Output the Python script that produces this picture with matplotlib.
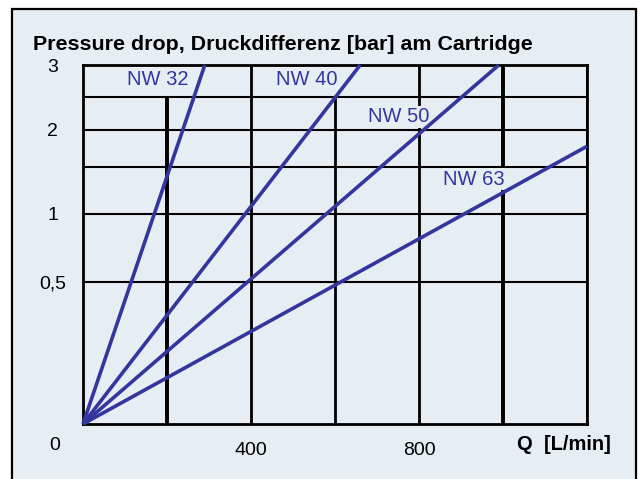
import numpy as np
import matplotlib.pyplot as plt
from matplotlib.patches import Rectangle

# pressure levels on the y axis and the pixel distance of each from the zero line
p_levels = [0, 0.5, 1, 1.5, 2, 2.5, 3]
p_dist = [0, 142, 210, 257, 294, 327, 359]

# curves: name, flow at end point [L/min], pressure at end point [bar]
names = ['NW 32', 'NW 40', 'NW 50', 'NW 63']
q_end = [290, 660, 990, 1200]
p_end = [3, 3, 3, 1.78]

x_ticks = [400, 800]
x_grid = [200, 400, 600, 800, 1000, 1200]
y_ticks = [0.5, 1, 2, 3]
y_ticklabels = ['0,5', '1', '2', '3']
y_grid = [0.5, 1, 1.5, 2, 2.5]

bg = '#e7eef3'
blue = '#3535a0'

def fwd(p):
	return np.interp(p, p_levels, p_dist)

def inv(d):
	return np.interp(d, p_dist, p_levels)

plt.rcParams['font.family'] = ['Liberation Sans', 'DejaVu Sans']

fig = plt.figure(figsize=(6.38, 4.79), dpi=100)
fig.patch.set_facecolor('white')
# light panel with a black frame
fig.patches.append(Rectangle((12/638, -0.01), 624/638, 1 - 9/479 + 0.01, transform=fig.transFigure,
	facecolor=bg, edgecolor='black', linewidth=1.6, zorder=-1))

ax = fig.add_axes([83/638, 1 - 424/479, 504/638, 359/479])
ax.set_facecolor(bg)
ax.set_yscale('function', functions=(fwd, inv))
ax.set_xlim(0, 1200)
ax.set_ylim(0, 3)

# grid
for y in y_grid:
	ax.axhline(y, color='black', linewidth=1.5, zorder=1)
for x in x_grid:
	lw = 2.8 if x in (200, 1000) else 2.0
	top = 2.5 if x in (200, 600) else 3
	ax.vlines(x, 0, top, color='black', linewidth=lw, zorder=1)
for s in ax.spines.values():
	s.set_linewidth(2.0)

for q, p in zip(q_end, p_end):
	ax.plot([0, q], [0, p], color=blue, linewidth=2.6, solid_capstyle='butt', zorder=3, clip_on=False)

# curve labels (x in L/min, y in bar)
lab_pos = [(179, 2.78), (533, 2.78), (752, 2.2), (931, 1.37)]
for n, (xp, yp) in zip(names, lab_pos):
	ax.text(xp, yp, n, color=blue, fontsize=14.5, ha='center', va='center',
		zorder=2, bbox=dict(facecolor=bg, edgecolor='none', pad=1.0))

ax.set_xticks(x_ticks)
ax.set_xticklabels([str(v) for v in x_ticks])
ax.set_yticks(y_ticks)
ax.set_yticklabels(y_ticklabels, ha='center')
ax.tick_params(length=0, labelsize=14)
ax.tick_params(axis='x', pad=13)
ax.tick_params(axis='y', pad=22)

fig.text(55/638, 1 - 445/479, '0', fontsize=14, ha='center', va='center')
fig.text(564/638, 1 - 445/479, 'Q  [L/min]', fontsize=14.5, fontweight='bold', ha='center', va='center')
fig.text(33/638, 1 - 45/479, 'Pressure drop, Druckdifferenz [bar] am Cartridge', fontsize=15.4,
	fontweight='bold', ha='left', va='center')

fig.savefig('out.png', dpi=100, facecolor=fig.get_facecolor())
